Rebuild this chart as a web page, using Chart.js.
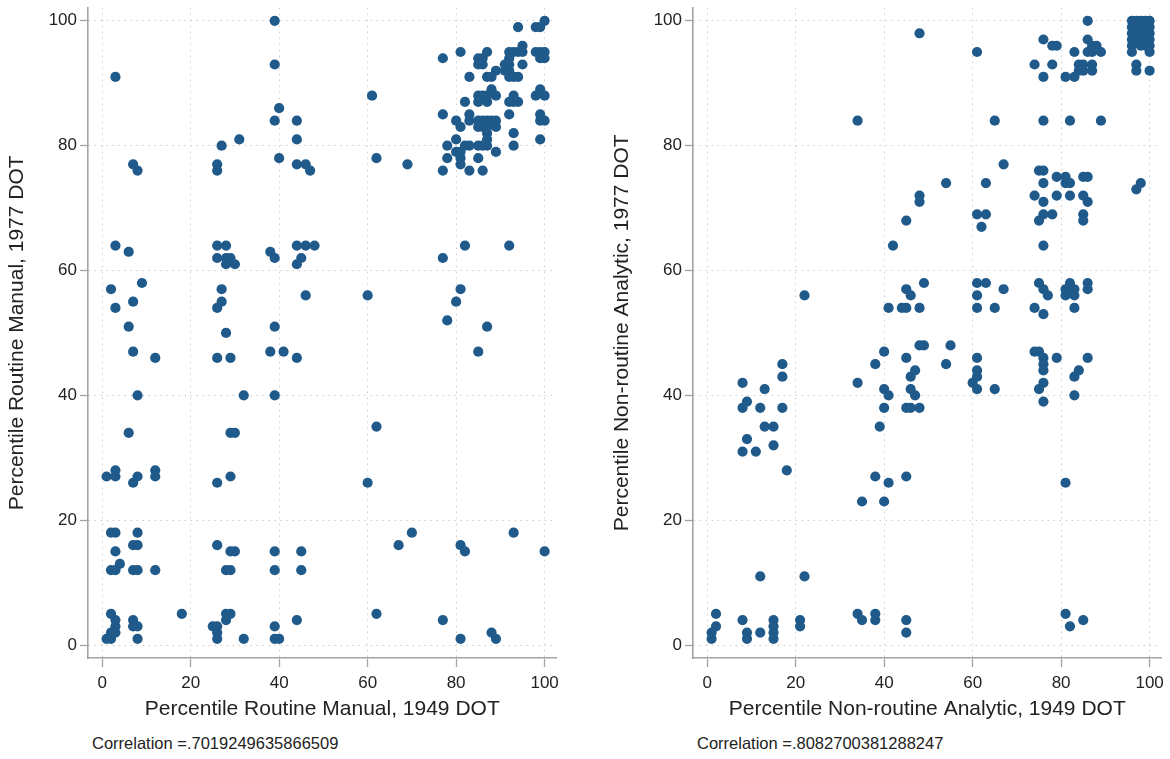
<!DOCTYPE html>
<html>
<head>
<meta charset="utf-8">
<script src="https://cdn.jsdelivr.net/npm/chart.js@4.4.1/dist/chart.umd.min.js"></script>
<style>
  body { margin: 0; background: #fff; width: 1170px; height: 759px; position: relative; overflow: hidden; font-family: "Liberation Sans", Arial, sans-serif; }
  canvas { position: absolute; top: 0; }
  #c1 { left: 0; }
  #c2 { left: 605px; }
  .corr { position: absolute; top: 734px; font-size: 16.5px; color: #222; white-space: nowrap; }
</style>
</head>
<body>
<canvas id="c1" width="565" height="730"></canvas>
<canvas id="c2" width="565" height="730"></canvas>
<div class="corr" style="left:92px">Correlation =.7019249635866509</div>
<div class="corr" style="left:697px">Correlation =.8082700381288247</div>
<script>
// percentile routine manual: 1949 DOT (x) vs 1977 DOT (y)
const manual1949 = [39,3,39,40,39,44,31,44,27,40,7,8,26,26,44,46,47,
  3,6,26,28,26,28,29,28,30,38,39,44,46,48,45,44,
  2,9,3,7,6,27,27,26,39,28,46,
  100,99,98,94,95,81,77,87,85,86,85,86,92,93,94,95,98,99,100,99,100,92,91,92,95,89,91,92,83,87,88,92,93,94,
  88,85,86,87,89,82,85,87,92,93,94,93,99,98,100,77,83,92,99,99,100,80,81,83,85,86,87,88,89,85,86,87,89,
  87,93,80,87,99,78,83,85,86,87,93,80,81,82,89,78,81,85,81,77,83,86,
  61,62,69,77,82,92,60,81,80,78,87,
  7,12,26,29,38,41,44,8,32,39,6,29,30,1,3,3,7,8,12,12,26,29,
  2,3,8,7,8,3,26,29,30,39,45,4,2,3,7,8,12,28,29,39,45,
  2,3,3,2,1,2,3,7,8,7,8,18,28,29,28,25,26,26,26,32,39,39,40,44,
  85,62,60,70,67,81,82,93,100,62,77,81,88,89];
const manual1977 = [100,91,93,86,84,84,81,81,80,78,77,76,77,76,77,77,76,
  64,63,64,64,62,62,62,61,61,63,62,64,64,64,62,61,
  57,58,54,55,51,57,55,54,51,50,56,
  100,99,99,99,96,95,94,95,94,94,93,93,95,95,95,95,95,95,95,94,94,94,93,93,93,92,92,92,91,91,91,91,91,91,
  89,88,88,88,88,87,87,87,87,87,87,88,89,88,88,85,85,85,85,84,84,84,83,84,84,84,84,84,84,83,83,83,83,
  82,82,81,81,81,80,80,80,80,80,80,79,79,80,79,78,78,78,77,76,76,76,
  88,78,77,62,64,64,56,57,55,52,51,
  47,46,46,46,47,47,46,40,40,40,34,34,34,27,27,28,26,27,28,27,26,27,
  18,18,18,16,16,15,16,15,15,15,15,13,12,12,12,12,12,12,12,12,12,
  5,4,3,2,1,1,2,4,3,3,1,5,5,5,4,3,3,2,1,1,3,1,1,4,
  47,35,26,18,16,16,15,18,15,5,4,1,2,1];

// percentile non-routine analytic: 1949 DOT (x) vs 1977 DOT (y)
const analytic1949 = [48,34,48,48,45,42,49,45,46,22,41,44,45,48,
  61,86,76,78,79,86,87,88,83,86,87,89,74,78,84,85,87,84,85,87,76,81,83,97,97,100,
  96,97,98,99,100,96,97,98,99,100,96,98,99,100,96,97,98,100,96,98,99,100,96,100,
  65,76,82,89,67,54,63,75,76,79,81,85,86,81,82,76,74,79,82,85,86,76,61,63,62,75,76,78,85,85,76,97,98,
  61,63,61,67,61,65,75,76,77,74,76,82,81,82,83,81,83,86,86,83,
  48,49,40,38,45,46,47,34,40,41,46,47,40,45,46,48,39,38,41,45,35,40,
  17,17,8,13,9,8,12,17,13,15,9,8,11,15,18,12,22,
  2,2,1,1,8,9,9,12,15,15,15,15,21,21,34,35,38,38,45,45,
  55,54,61,61,61,60,61,65,74,75,76,76,76,79,76,75,76,86,84,83,83,81,81,82,85];
const analytic1977 = [98,84,72,71,68,64,58,57,56,56,54,54,54,54,
  95,100,97,96,96,97,96,96,95,95,95,95,93,93,93,93,93,92,92,92,91,91,91,93,92,92,
  100,100,100,100,100,99,99,99,99,99,98,98,98,98,97,97,97,97,96,96,96,96,95,95,
  84,84,84,84,77,74,74,76,76,75,75,75,75,74,74,74,72,72,72,72,71,71,69,69,67,68,69,69,69,68,64,73,74,
  58,58,56,57,54,54,58,57,56,54,53,58,57,57,57,56,56,58,57,54,
  48,48,47,45,46,43,44,42,41,40,41,40,38,38,38,38,35,27,26,27,23,23,
  45,43,42,41,39,38,38,38,35,35,33,31,31,32,28,11,11,
  5,3,2,1,4,2,1,2,4,3,2,1,4,3,5,4,5,4,4,2,
  48,45,46,44,43,42,41,41,47,47,46,45,44,46,42,41,39,46,44,43,40,26,5,3,4];

const yTicks = [0, 20, 40, 60, 80, 100];
const dotColor = '#1f5a8a';
const axisGray = '#a3a3a3';

function makePoints(xs, ys) {
  return xs.map((x, i) => ({ x: x, y: ys[i] }));
}

function axis(title, isX) {
  return {
    type: 'linear',
    min: isX ? -3.2 : -2.07,
    max: isX ? 102.7 : 102.1,
    afterBuildTicks: s => { s.ticks = yTicks.map(v => ({ value: v })); },
    afterFit: s => { if (isX) s.height = 72; else s.width = 88; },
    grid: {
      color: '#cccccc',
      lineWidth: 1,
      tickLength: isX ? 9 : 8,
      tickColor: axisGray,
      tickWidth: 1.3
    },
    border: { display: true, color: axisGray, width: 1.6, dash: [1.5, 4.5] },
    ticks: {
      color: '#222',
      padding: isX ? 6 : 3,
      font: { family: 'Liberation Sans', size: 17, lineHeight: isX ? 1.2 : 0.55 },
      callback: v => v
    },
    title: {
      display: true,
      text: title,
      color: '#222',
      font: { family: 'Liberation Sans', size: 21 },
      padding: isX ? { top: 0, bottom: 8 } : { top: 5, bottom: 0 }
    }
  };
}

function drawScatter(id, xs, ys, xTitle, yTitle) {
  new Chart(document.getElementById(id), {
    type: 'scatter',
    data: {
      datasets: [{
        data: makePoints(xs, ys),
        backgroundColor: dotColor,
        borderColor: dotColor,
        borderWidth: 0,
        pointRadius: 5.1
      }]
    },
    options: {
      responsive: false,
      animation: false,
      devicePixelRatio: 1,
      layout: { padding: { top: 5, right: 8, left: 0, bottom: 0 } },
      plugins: { legend: { display: false }, tooltip: { enabled: false } },
      scales: {
        x: axis(xTitle, true),
        y: axis(yTitle, false)
      }
    }
  });
}

drawScatter('c1', manual1949, manual1977,
  'Percentile Routine Manual, 1949 DOT', 'Percentile Routine Manual, 1977 DOT');
drawScatter('c2', analytic1949, analytic1977,
  'Percentile Non-routine Analytic, 1949 DOT', 'Percentile Non-routine Analytic, 1977 DOT');
</script>
</body>
</html>
